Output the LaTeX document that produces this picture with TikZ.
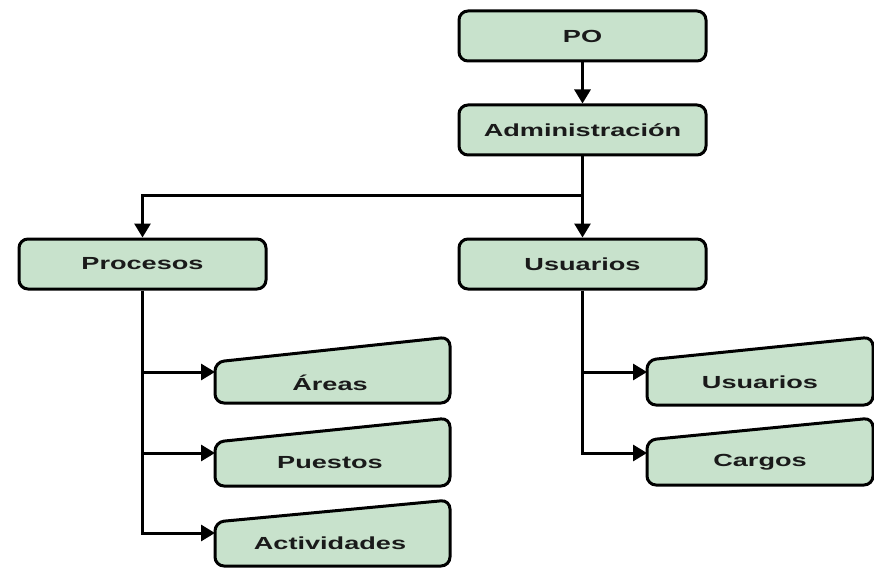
\documentclass[tikz,border=0pt]{standalone}
\usepackage{fontspec}
\setmainfont{Liberation Sans}
\usetikzlibrary{arrows.meta}
\definecolor{boxgreen}{HTML}{C8E2CC}
\definecolor{textgray}{HTML}{1A1A1A}
\newcommand{\wtxt}[1]{\scalebox{1.55}[1]{#1}}
\begin{document}
\begin{tikzpicture}[x=1pt,y=-1pt,
  box/.style={draw=black, line width=3pt, fill=boxgreen, rounded corners=9pt,
    minimum width=247pt, minimum height=50pt, inner sep=0pt},
  lbl/.style={font=\fontsize{17.5}{20}\selectfont\bfseries, text=textgray, inner sep=0pt},
  mi/.style={draw=black, line width=3pt, fill=boxgreen, rounded corners=9pt},
  arr/.style={draw=black, line width=3pt, -{Triangle[length=14pt,width=16pt]}}]
\useasboundingbox (0,0) rectangle (874,569);
% main boxes
\node[box] (po) at (582.5,36) {};
\node[lbl] (potxt) at (po) {\wtxt{PO}};
\node[box] (admin) at (582.5,130) {};
\node[lbl] (admintxt) at (admin) {\wtxt{Administración}};
\node[box] (proc) at (142.5,264) {};
\node[lbl] (proctxt) at (proc) {\wtxt{Procesos}};
\node[box] (usu) at (582.5,264) {};
\node[lbl] (usutxt) at (usu) {\wtxt{Usuarios}};
% manual input shapes
\draw[mi] (215,362) -- (450,337) -- (450,403) -- (215,403) -- cycle;
\node[lbl] (areas) at (330,383) {\wtxt{Áreas}};
\coordinate (areas-in) at (215,372);
\draw[mi] (215,442) -- (450,418) -- (450,486) -- (215,486) -- cycle;
\node[lbl] (puestos) at (330,463) {\wtxt{Puestos}};
\coordinate (puestos-in) at (215,453);
\draw[mi] (215,522) -- (450,500) -- (450,566) -- (215,566) -- cycle;
\node[lbl] (activ) at (330,543) {\wtxt{Actividades}};
\coordinate (activ-in) at (215,533);
\draw[mi] (647,360) -- (873,337) -- (873,405) -- (647,405) -- cycle;
\node[lbl] (usu2) at (760,382) {\wtxt{Usuarios}};
\coordinate (usu2-in) at (647,372);
\draw[mi] (647,440) -- (873,418) -- (873,485) -- (647,485) -- cycle;
\node[lbl] (cargos) at (760,462) {\wtxt{Cargos}};
\coordinate (cargos-in) at (647,453);
% connectors
\coordinate (split) at (582.5,196);
\draw[arr] (po.south) -- (admin.north);
\draw[line width=3pt] (admin.south) -- (split);
\draw[arr] (split) -| (proc.north);
\draw[arr] (split) -- (usu.north);
\draw[arr] (proc.south) |- (activ-in);
\draw[arr] (proc.south |- areas-in) -- (areas-in);
\draw[arr] (proc.south |- puestos-in) -- (puestos-in);
\draw[arr] (usu.south) |- (cargos-in);
\draw[arr] (usu.south |- usu2-in) -- (usu2-in);
\end{tikzpicture}
\end{document}
